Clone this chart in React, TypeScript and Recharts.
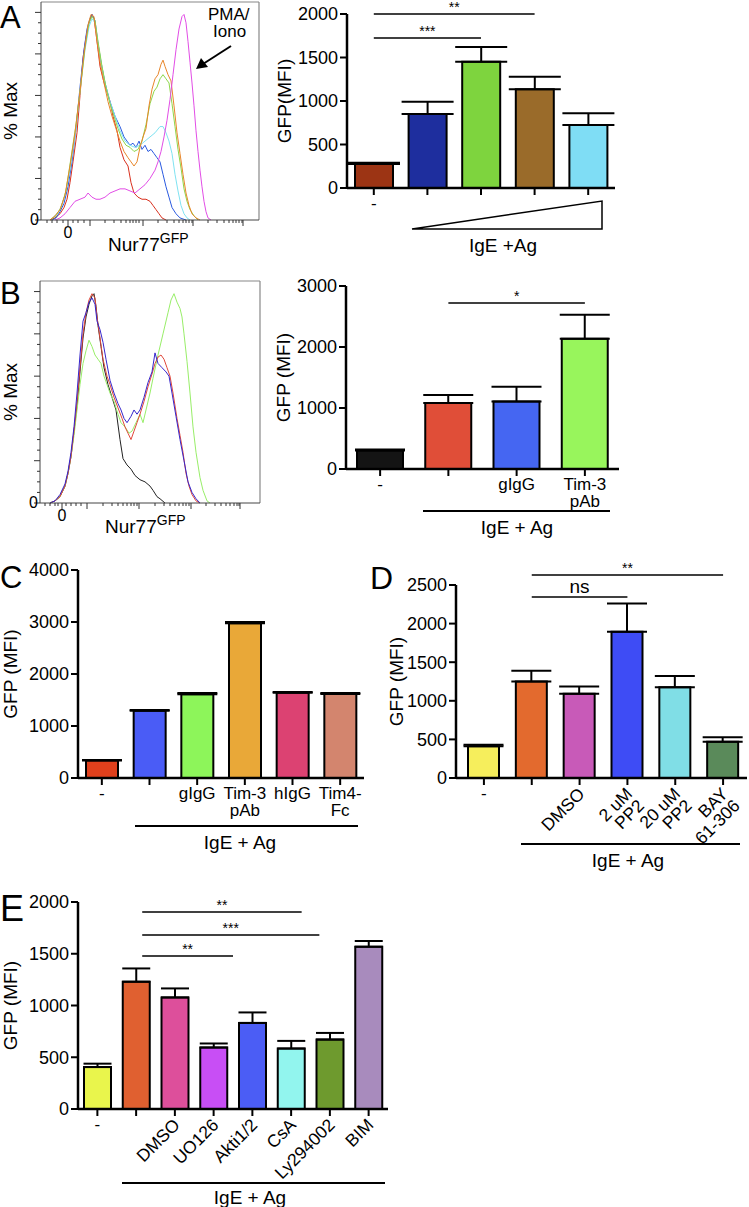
import React from "react";
import {
  Bar,
  BarChart,
  Cell,
  ErrorBar,
  Line,
  LineChart,
  ReferenceLine,
  XAxis,
  YAxis,
} from "recharts";

const FONT = '"Liberation Sans", Arial, Helvetica, sans-serif';

type Pt = [number, number];

// ---------- A: Nur77-GFP histograms (channel, % of max)
const histARed: Pt[] = [[50,0],[55,1],[60,3],[64,6],[67,10],[70,18],[73,28],[77,42],[80,60],[83,78],[86,88],[89,95],[92,99],[94,97],[96,90],[98,82],[100,74],[103,68],[106,63],[110,57],[113,50],[117,43],[120,35],[124,29],[128,26],[131,18],[134,13],[138,11],[142,10],[146,10],[150,9],[153,7],[156,5],[159,3],[162,1],[166,0]];
const histABlue: Pt[] = [[52,0],[56,1],[60,4],[64,8],[68,16],[72,28],[76,44],[80,64],[84,82],[87,92],[90,97],[92,99],[95,96],[98,85],[101,76],[105,66],[110,57],[115,50],[120,45],[124,40],[127,38],[130,36],[133,37],[136,35],[139,38],[142,34],[145,36],[148,33],[151,34],[154,32],[157,30],[160,28],[163,22],[166,16],[169,11],[172,6],[176,3],[180,1],[186,0]];
const histACyan: Pt[] = [[50,0],[55,2],[60,5],[65,12],[70,24],[75,40],[80,62],[85,82],[89,93],[92,97],[95,95],[98,85],[101,76],[105,66],[110,57],[115,50],[120,43],[125,38],[130,36],[135,35],[140,36],[145,38],[150,40],[155,42],[160,45],[163,45],[166,42],[169,38],[172,32],[175,22],[178,14],[181,7],[184,3],[187,1],[190,0]];
const histAGreen: Pt[] = [[50,0],[56,2],[61,6],[66,14],[71,30],[76,46],[81,66],[85,83],[89,95],[92,98],[95,96],[98,86],[102,74],[106,64],[110,56],[114,50],[118,44],[122,39],[126,36],[130,35],[134,33],[138,34],[142,38],[146,46],[150,56],[154,62],[157,64],[160,68],[163,70],[166,68],[169,66],[172,56],[175,45],[178,34],[181,25],[184,15],[187,9],[190,5],[194,2],[198,0]];
const histAOrange: Pt[] = [[50,0],[55,2],[60,5],[65,12],[70,26],[75,42],[80,62],[84,80],[88,94],[91,99],[94,98],[97,86],[100,76],[104,66],[108,57],[112,50],[116,44],[120,38],[124,33],[128,30],[131,28],[134,26],[137,28],[140,35],[143,40],[146,44],[149,55],[152,63],[155,68],[158,70],[161,75],[163,77],[165,74],[168,70],[171,67],[174,55],[177,42],[180,32],[183,22],[186,13],[189,7],[192,3],[196,1],[200,0]];
const histAMagenta: Pt[] = [[55,0],[60,1],[65,3],[70,6],[75,9],[80,10],[85,11],[88,13],[92,11],[96,10],[100,10],[105,11],[110,13],[115,14],[120,15],[125,15],[130,14],[135,13],[140,15],[145,17],[150,20],[155,24],[158,28],[161,33],[164,40],[167,48],[170,58],[173,70],[176,82],[179,92],[182,98],[184,99],[186,95],[188,86],[190,76],[192,66],[194,55],[196,43],[198,33],[200,24],[202,16],[204,9],[206,4],[208,1],[211,0]];

// ---------- B: histograms
const histBBlack: Pt[] = [[50,0],[55,1],[60,3],[65,8],[68,14],[71,22],[74,34],[77,46],[80,62],[83,78],[86,88],[89,94],[92,98],[94,99],[96,93],[98,84],[101,74],[104,64],[108,56],[112,50],[116,44],[120,30],[123,21],[127,18],[131,16],[135,13],[140,11],[145,10],[150,8],[153,6],[157,3],[160,2],[165,0]];
const histBRed: Pt[] = [[50,0],[55,1],[60,3],[65,8],[68,14],[71,22],[74,34],[77,48],[80,64],[83,80],[86,90],[89,96],[92,99],[95,97],[97,88],[100,78],[103,68],[107,60],[110,56],[114,50],[118,45],[122,40],[125,36],[128,33],[131,30],[134,34],[137,38],[140,42],[144,48],[148,55],[152,61],[155,66],[158,69],[161,70],[164,68],[167,64],[170,60],[173,52],[177,40],[180,32],[183,24],[186,14],[189,8],[192,4],[196,1],[200,0]];
const histBGreen: Pt[] = [[50,0],[55,1],[60,3],[65,8],[68,14],[71,22],[74,32],[77,44],[80,56],[83,66],[86,72],[89,77],[92,74],[95,70],[98,68],[101,66],[104,60],[107,56],[110,52],[114,48],[118,42],[121,38],[125,36],[129,33],[132,34],[136,38],[140,42],[143,38],[146,44],[150,52],[153,59],[158,70],[163,80],[168,90],[171,96],[174,99],[177,95],[180,92],[182,88],[184,80],[187,67],[190,52],[193,36],[196,24],[200,12],[203,6],[207,1],[210,0]];
const histBBlue: Pt[] = [[50,0],[55,1],[60,4],[65,9],[68,15],[71,24],[74,36],[77,52],[80,70],[83,86],[86,90],[89,95],[92,97],[95,94],[97,86],[100,82],[103,76],[106,68],[110,58],[114,52],[118,47],[121,44],[124,40],[127,38],[131,41],[134,44],[137,42],[140,44],[144,50],[148,57],[152,62],[155,71],[158,66],[162,64],[166,62],[169,60],[172,52],[176,41],[180,30],[184,20],[188,10],[192,5],[196,2],[200,0]];

const histYTicks = [0,5,10,15,20,25,30,35,40,45,50,55,60,65,70,75,80,85,90,95,100];
const histAXTicks = [47,52,57,63,68,73,78,84,90,105,114,121,126,130,133,136,139,143,158,167,174,179,183,186,189,192,193,208,217,224,229,233,236,239,242,243];
const histAMajors = [68,90,143,193,243];
const histBXTicks = [45,50,55,58,62,66,71,76,81,87,103,112,118,123,127,131,134,137,139,155,164,170,175,179,183,186,189,191,206,215,221,226,230,234,237,239,240];
const histBMajors = [62,87,139,191,240];

// ---------- A bar
const aIds = ["a0","a1","a2","a3","a4"];
const aLabels = ["-","","","",""];
const aValues = [275, 850, 1450, 1135, 725];
const aErrors = [15, 140, 170, 145, 135];
const aColors = ["#9C3414","#1E2E9E","#7ED43E","#9A6B2A","#7FDDF5"];
const aTicks = [0, 500, 1000, 1500, 2000];

// ---------- B bar
const bIds = ["b0","b1","b2","b3"];
const bLabels = ["-","","gIgG","Tim-3\npAb"];
const bValues = [305, 1080, 1105, 2135];
const bErrors = [15, 135, 245, 395];
const bColors = ["#141414","#E04E38","#4566F2","#98F55C"];
const bTicks = [0, 1000, 2000, 3000];

// ---------- C bar
const cIds = ["c0","c1","c2","c3","c4","c5"];
const cLabels = ["-","","gIgG","Tim-3\npAb","hIgG","Tim4-\nFc"];
const cValues = [335, 1295, 1610, 2975, 1640, 1615];
const cErrors = [10, 15, 25, 25, 15, 20];
const cColors = ["#E0401C","#4A5CF6","#8DF55A","#E9A838","#DC4272","#D3856E"];
const cTicks = [0, 1000, 2000, 3000, 4000];

// ---------- D bar
const dIds = ["d0","d1","d2","d3","d4","d5"];
const dLabels = ["-","","DMSO","2 uM\nPP2","20 uM\nPP2","BAY\n61-306"];
const dValues = [410, 1250, 1090, 1895, 1175, 470];
const dErrors = [20, 140, 95, 365, 145, 57];
const dColors = ["#F6EE5C","#E36A2E","#C85AB8","#3E4CF5","#80DEE6","#5A8A5A"];
const dTicks = [0, 500, 1000, 1500, 2000, 2500];

// ---------- E bar
const eIds = ["e0","e1","e2","e3","e4","e5","e6","e7"];
const eLabels = ["-","","DMSO","UO126","Akti1/2","CsA","Ly294002","BIM"];
const eValues = [405, 1230, 1078, 594, 832, 584, 671, 1568];
const eErrors = [33, 128, 87, 39, 101, 74, 64, 55];
const eColors = ["#E9F54C","#E06030","#DD4F9B","#C84EF5","#4B5DF5","#92F5EE","#6E9A2E","#A88BBD"];
const eTicks = [0, 500, 1000, 1500, 2000];

type Sig = { x1: string | number; x2: string | number; y: number; text: string; size?: number };

const aSigs: Sig[] = [
  { x1: "a0", x2: "a3", y: 2000, text: "**" },
  { x1: "a0", x2: "a2", y: 1724, text: "***" },
];
const bSigs: Sig[] = [{ x1: "b1", x2: "b3", y: 2721, text: "*" }];
const dSigs: Sig[] = [
  { x1: "d1", x2: "d5", y: 2629, text: "**" },
  { x1: "d1", x2: "d3", y: 2345, text: "ns", size: 19 },
];
// E uses a hidden numeric axis (category i sits at i + 0.5)
const eSigs: Sig[] = [
  { x1: 1.45, x2: 5.05, y: 1903, text: "**" },
  { x1: 1.45, x2: 5.45, y: 1681, text: "***" },
  { x1: 1.45, x2: 3.5, y: 1478, text: "**" },
];

function makeBarTick(ids: string[], labels: string[], rotate: boolean) {
  return function BarTick(props: any) {
    const { x, y, payload } = props;
    const idx = ids.indexOf(payload.value);
    const lines = (labels[idx] ?? "").split("\n");
    if (!rotate || lines[0] === "-") {
      return (
        <text x={x} y={y} textAnchor="middle" fontSize={17} fill="#000" fontFamily={FONT}>
          {lines.map((l, i) => (
            <tspan key={i} x={x} dy={i === 0 ? "0.72em" : "0.98em"}>{l}</tspan>
          ))}
        </text>
      );
    }
    return (
      <g transform={`translate(${x + 6},${y + 8})`}>
        <text textAnchor="end" transform="rotate(-45)" fontSize={17.5} fill="#000" fontFamily={FONT}>
          {lines.map((l, i) => (
            <tspan key={i} x={0} dy={i === 0 ? 0 : "0.95em"}>{l}</tspan>
          ))}
        </text>
      </g>
    );
  };
}

type BarPanelProps = {
  ids: string[];
  labels: string[];
  values: number[];
  errors: number[];
  colors: string[];
  ticks: number[];
  yLabel: string;
  left: number;
  top: number;
  width: number;
  height: number;
  mTop: number;
  mRight: number;
  yW: number;
  xH: number;
  barSize: number;
  errW: number;
  labelX: number;
  sigs: Sig[];
  rotate?: boolean;
  padLeft?: number;
  numericSigs?: boolean;
};

function BarPanel(p: BarPanelProps) {
  const rows = p.ids.map((id, i) => ({ id, value: p.values[i], err: [0, p.errors[i]] }));
  const yMax = p.ticks[p.ticks.length - 1];
  return (
    <div style={{ position: "absolute", left: p.left, top: p.top }}>
      <BarChart
        width={p.width}
        height={p.height}
        data={rows}
        margin={{ top: p.mTop, right: p.mRight, bottom: 0, left: 0 }}
      >
        <XAxis
          dataKey="id"
          type="category"
          height={p.xH}
          interval={0}
          tickSize={7}
          tickMargin={2}
          padding={{ left: p.padLeft ?? 0, right: 0 }}
          axisLine={{ stroke: "#000", strokeWidth: 2.5 }}
          tickLine={{ stroke: "#000", strokeWidth: 2 }}
          tick={makeBarTick(p.ids, p.labels, !!p.rotate)}
        />
        {p.numericSigs && (
          <XAxis xAxisId="n" type="number" domain={[0, p.ids.length]} allowDataOverflow hide />
        )}
        <YAxis
          type="number"
          domain={[0, yMax]}
          ticks={p.ticks}
          interval={0}
          width={p.yW}
          tickSize={7}
          tickMargin={2}
          axisLine={{ stroke: "#000", strokeWidth: 2.5 }}
          tickLine={{ stroke: "#000", strokeWidth: 2 }}
          tick={{ fontSize: 18, fill: "#000", fontFamily: FONT }}
          label={{
            value: p.yLabel,
            angle: -90,
            position: "insideLeft",
            offset: p.labelX,
            style: { textAnchor: "middle", fontSize: 19, fill: "#000", fontFamily: FONT },
          }}
        />
        <Bar
          dataKey="value"
          barSize={p.barSize}
          stroke="#000"
          strokeWidth={2}
          isAnimationActive={false}
        >
          {p.colors.map((c, i) => (
            <Cell key={i} fill={c} />
          ))}
          <ErrorBar dataKey="err" width={p.errW} stroke="#000" strokeWidth={2} direction="y" />
        </Bar>
        {p.sigs.map((s, i) => (
          <ReferenceLine
            key={i}
            xAxisId={p.numericSigs ? "n" : 0}
            segment={[{ x: s.x1, y: s.y }, { x: s.x2, y: s.y }]}
            stroke="#000"
            strokeWidth={1.5}
            ifOverflow="visible"
            label={{
              value: s.text,
              position: "top",
              offset: s.size ? 4 : 2,
              fontSize: s.size ?? 14,
              fill: "#000",
              fontFamily: FONT,
            }}
          />
        ))}
      </BarChart>
    </div>
  );
}

type Curve = { pts: Pt[]; color: string };

type HistProps = {
  left: number;
  top: number;
  width: number;
  height: number;
  domain: [number, number];
  yW: number;
  curves: Curve[];
  xTicks: number[];
  majors: number[];
  zero: number;
};

function HistPanel(h: HistProps) {
  const XTick = (props: any) => {
    const v = props.payload.value;
    const len = h.majors.includes(v) ? 6 : 3;
    return (
      <g>
        <line x1={props.x} x2={props.x} y1={props.y} y2={props.y + len} stroke="#333" strokeWidth={1} />
        {v === h.zero && (
          <text x={props.x} y={props.y + 18} textAnchor="middle" fontSize={16} fill="#000" fontFamily={FONT}>
            0
          </text>
        )}
      </g>
    );
  };
  const YTick = (props: any) => {
    const v = props.payload.value;
    const len = v % 20 === 0 ? 6 : 3;
    return (
      <g>
        <line x1={props.x - len} x2={props.x} y1={props.y} y2={props.y} stroke="#333" strokeWidth={1} />
        {v === 0 && (
          <text x={props.x - 2} y={props.y + 5} textAnchor="end" fontSize={16} fill="#000" fontFamily={FONT}>
            0
          </text>
        )}
      </g>
    );
  };
  return (
    <div style={{ position: "absolute", left: h.left, top: h.top }}>
      <LineChart width={h.width} height={h.height} margin={{ top: 2, right: 3, bottom: 0, left: 0 }}>
        <XAxis
          type="number"
          dataKey="x"
          domain={h.domain}
          allowDataOverflow
          ticks={h.xTicks}
          interval={0}
          tickSize={0}
          tickMargin={0}
          tickLine={false}
          height={20}
          axisLine={{ stroke: "#444", strokeWidth: 1 }}
          tick={XTick}
        />
        <YAxis
          type="number"
          domain={[0, 105]}
          ticks={histYTicks}
          interval={0}
          tickSize={0}
          tickMargin={0}
          tickLine={false}
          width={h.yW}
          axisLine={{ stroke: "#444", strokeWidth: 1 }}
          tick={YTick}
          label={{
            value: "% Max",
            angle: -90,
            position: "insideLeft",
            offset: 10,
            style: { textAnchor: "middle", fontSize: 19, fill: "#000", fontFamily: FONT },
          }}
        />
        <ReferenceLine x={h.domain[1]} stroke="#888" strokeWidth={1.2} ifOverflow="visible" />
        <ReferenceLine y={105} stroke="#888" strokeWidth={1.2} ifOverflow="visible" />
        {h.curves.map((c, i) => (
          <Line
            key={i}
            data={c.pts.map(([x, y]) => ({ x, y }))}
            dataKey="y"
            type="linear"
            stroke={c.color}
            strokeWidth={1}
            dot={false}
            isAnimationActive={false}
          />
        ))}
      </LineChart>
    </div>
  );
}

function Overlay() {
  const t = { fontFamily: FONT, fill: "#000" } as const;
  return (
    <svg
      width={749}
      height={1207}
      style={{ position: "absolute", left: 0, top: 0, pointerEvents: "none" }}
    >
      <text x={0} y={28} fontSize={31} {...t}>A</text>
      <text x={0} y={304} fontSize={31} {...t}>B</text>
      <text x={0} y={588} fontSize={31} {...t}>C</text>
      <text x={370} y={589} fontSize={32} {...t}>D</text>
      <text x={0} y={921} fontSize={36} {...t}>E</text>

      <text x={208} y={20} fontSize={17} {...t}>PMA/</text>
      <text x={213} y={37} fontSize={17} {...t}>Iono</text>
      <line x1={231} y1={46} x2={203} y2={64} stroke="#000" strokeWidth={2} />
      <polygon points="196,69 201,58 208,67" fill="#000" />

      <text x={108} y={251} fontSize={19} {...t}>
        Nur77<tspan fontSize={14} dy={-8}>GFP</tspan>
      </text>
      <text x={105} y={533} fontSize={19} {...t}>
        Nur77<tspan fontSize={14} dy={-8}>GFP</tspan>
      </text>

      <polygon points="412,229 602,201 602,229" fill="none" stroke="#000" strokeWidth={1.5} />
      <text x={503} y={252} fontSize={19} textAnchor="middle" {...t}>IgE +Ag</text>

      <line x1={423} y1={511} x2={610} y2={511} stroke="#000" strokeWidth={2} />
      <text x={517} y={534} fontSize={19} textAnchor="middle" {...t}>IgE + Ag</text>

      <line x1={135} y1={826} x2={358} y2={826} stroke="#000" strokeWidth={2} />
      <text x={240} y={849} fontSize={19} textAnchor="middle" {...t}>IgE + Ag</text>

      <line x1={521} y1={844} x2={740} y2={844} stroke="#000" strokeWidth={2} />
      <text x={628} y={867} fontSize={19} textAnchor="middle" {...t}>IgE + Ag</text>

      <line x1={122} y1={1183} x2={385} y2={1183} stroke="#000" strokeWidth={2} />
      <text x={250} y={1204} fontSize={19} textAnchor="middle" {...t}>IgE + Ag</text>
    </svg>
  );
}

export default function App() {
  return (
    <div
      style={{
        position: "absolute",
        left: 0,
        top: 0,
        width: 749,
        height: 1207,
        background: "#fff",
        fontFamily: FONT,
        overflow: "hidden",
      }}
    >
      <HistPanel
        left={0}
        top={0}
        width={262}
        height={240}
        domain={[41, 259]}
        yW={41}
        xTicks={histAXTicks}
        majors={histAMajors}
        zero={68}
        curves={[
          { pts: histARed, color: "#D9301E" },
          { pts: histABlue, color: "#2A5AE0" },
          { pts: histACyan, color: "#7FE3F2" },
          { pts: histAGreen, color: "#8ED84A" },
          { pts: histAOrange, color: "#E8862A" },
          { pts: histAMagenta, color: "#E24DE6" },
        ]}
      />
      <HistPanel
        left={0}
        top={279}
        width={263}
        height={244}
        domain={[40, 260]}
        yW={40}
        xTicks={histBXTicks}
        majors={histBMajors}
        zero={62}
        curves={[
          { pts: histBBlack, color: "#222222" },
          { pts: histBGreen, color: "#98EE68" },
          { pts: histBRed, color: "#E0483A" },
          { pts: histBBlue, color: "#3626CC" },
        ]}
      />
      <BarPanel
        ids={aIds} labels={aLabels} values={aValues} errors={aErrors} colors={aColors} ticks={aTicks}
        yLabel="GFP(MFI)"
        left={270} top={0} width={360} height={220} mTop={14} mRight={15} yW={77} xH={32}
        barSize={38} errW={26} labelX={14.5} sigs={aSigs}
      />
      <BarPanel
        ids={bIds} labels={bLabels} values={bValues} errors={bErrors} colors={bColors} ticks={bTicks}
        yLabel="GFP (MFI)"
        left={270} top={260} width={360} height={254} mTop={26} mRight={11} yW={76} xH={45}
        barSize={46} errW={25} labelX={13.5} sigs={bSigs}
      />
      <BarPanel
        ids={cIds} labels={cLabels} values={cValues} errors={cErrors} colors={cColors} ticks={cTicks}
        yLabel="GFP (MFI)"
        left={0} top={560} width={370} height={268} mTop={10} mRight={6} yW={78} xH={50}
        barSize={32} errW={20} labelX={10} sigs={[]}
      />
      <BarPanel
        ids={dIds} labels={dLabels} values={dValues} errors={dErrors} colors={dColors} ticks={dTicks}
        yLabel="GFP (MFI)"
        left={370} top={560} width={379} height={308} mTop={25} mRight={2} yW={86} xH={90}
        barSize={31} errW={20} labelX={26.5} sigs={dSigs} rotate padLeft={4}
      />
      <BarPanel
        ids={eIds} labels={eLabels} values={eValues} errors={eErrors} colors={eColors} ticks={eTicks}
        yLabel="GFP (MFI)"
        left={0} top={880} width={400} height={324} mTop={22} mRight={12} yW={78} xH={95}
        barSize={27} errW={14} labelX={10} sigs={eSigs} rotate numericSigs
      />
      <Overlay />
    </div>
  );
}
